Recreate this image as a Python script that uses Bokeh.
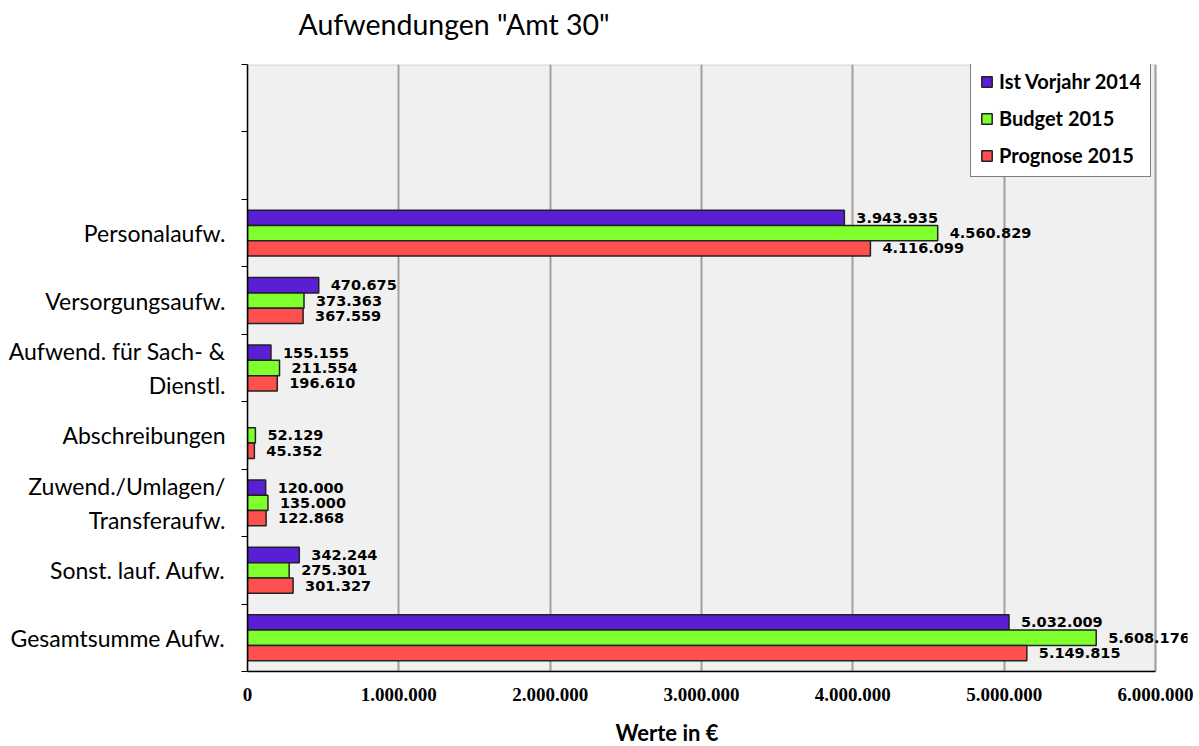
from bokeh.plotting import figure
from bokeh.models import (ColumnDataSource, Range1d, LinearAxis, BoxAnnotation,
                          FixedTicker, Label, Legend, LegendItem, Title)
from bokeh.embed import file_html
from bokeh.resources import INLINE

# ---- data ----
categories = ["Personalaufw.", "Versorgungsaufw.", "Aufwend. für Sach- &\nDienstl.",
              "Abschreibungen", "Zuwend./Umlagen/\nTransferaufw.", "Sonst. lauf. Aufw.",
              "Gesamtsumme Aufw."]
n_empty_slots = 2  # two empty rows at the top (legend area)
series_names = ["Ist Vorjahr 2014", "Budget 2015", "Prognose 2015"]
ist_2014 = [3943935, 470675, 155155, float("nan"), 120000, 342244, 5032009]
budget_2015 = [4560829, 373363, 211554, 52129, 135000, 275301, 5608176]
prognose_2015 = [4116099, 367559, 196610, 45352, 122868, 301327, 5149815]
x_ticks = [0, 1000000, 2000000, 3000000, 4000000, 5000000, 6000000]
x_tick_labels = ["0", "1.000.000", "2.000.000", "3.000.000", "4.000.000", "5.000.000", "6.000.000"]
colors = ["#5a1fd4", "#7fff2e", "#ff5050"]

x_max = 6000000
n_slots = len(categories) + n_empty_slots
# slot centres: first category at the top (below the empty slots)
centers = [len(categories) - 1 - i + 0.5 for i in range(len(categories))]

# frame extends a little beyond the grey plot area so value labels can overhang it
frame_left, frame_right, area_right = 247, 1187, 1155
x_end = x_max * (frame_right - frame_left) / (area_right - frame_left)

p = figure(width=1199, height=746, output_backend="svg", toolbar_location=None,
           y_range=Range1d(0, n_slots), x_range=Range1d(0, x_end),
           y_axis_location=None, x_axis_location=None,
           min_border_left=frame_left, min_border_right=1199 - frame_right,
           min_border_top=64, min_border_bottom=75,
           background_fill_color="white", border_fill_color="white")
p.outline_line_color = None

# grey plot area with border
p.add_layout(BoxAnnotation(left=0, right=x_max, fill_color="#f0f0f0", fill_alpha=1,
                           line_color="#8c8c8c", line_width=2, level="image"))

# axis with tick marks at slot boundaries
tick_axis = LinearAxis(ticker=FixedTicker(ticks=list(range(n_slots + 1))),
                       major_tick_out=6, major_tick_in=0, minor_tick_line_color=None,
                       axis_line_color="black", axis_line_width=1.5, major_tick_line_color="black",
                       major_label_text_font_size="0px", major_label_standoff=0,
                       major_label_overrides={t: "" for t in range(n_slots + 1)})
p.add_layout(tick_axis, "left")

# axis with category names at slot centres
cat_axis = LinearAxis(ticker=FixedTicker(ticks=centers),
                      major_label_overrides={c: name for c, name in zip(centers, categories)},
                      axis_line_color=None, major_tick_line_color=None, minor_tick_line_color=None,
                      major_label_text_font="Lato", major_label_text_font_size="23px",
                      major_label_text_color="black", major_label_standoff=10)
p.add_layout(cat_axis, "left")

xaxis = LinearAxis(ticker=FixedTicker(ticks=x_ticks), bounds=(0, x_max),
                   major_label_overrides={t: l for t, l in zip(x_ticks, x_tick_labels)},
                   major_tick_line_color=None, minor_tick_line_color=None,
                   axis_line_color="black", axis_line_width=1.5,
                   major_label_text_font="Liberation Serif", major_label_text_font_style="bold",
                   major_label_text_font_size="19px", major_label_text_color="black",
                   major_label_standoff=10)
p.add_layout(xaxis, "below")

p.xgrid.ticker = FixedTicker(ticks=x_ticks)
p.xgrid.grid_line_color = "#a0a0a0"
p.xgrid.grid_line_width = 2
p.ygrid.grid_line_color = None

bar_h = 0.227
offsets = [bar_h, 0.0, -bar_h]
items = []
for name, vals, col, off in zip(series_names, [ist_2014, budget_2015, prognose_2015], colors, offsets):
    ys = [c + off for c in centers]
    src = ColumnDataSource(dict(y=ys, val=vals))
    r = p.hbar(y="y", right="val", left=0, height=bar_h,
               source=src, fill_color=col, line_color="#222222", line_width=1.5)
    items.append(LegendItem(label=name, renderers=[r]))
    for v, y in zip(vals, ys):
        if v != v:
            continue
        p.add_layout(Label(x=v, y=y, text=f"{int(v):,}".replace(",", "."),
                           x_offset=12, text_baseline="middle", text_font="DejaVu Sans",
                           text_font_style="bold", text_font_size="14.5px", text_color="black"))

legend = Legend(items=items, location=(723, 494), margin=0,
                border_line_color="black", border_line_width=1.5,
                background_fill_color="white", background_fill_alpha=1,
                label_text_font="Lato", label_text_font_style="bold", label_text_font_size="20px",
                label_text_color="black",
                glyph_width=13, glyph_height=13, label_height=20, spacing=13,
                padding=9, label_standoff=6)
p.add_layout(legend)

# spacer then main title (above), spacer then axis title (below)
p.add_layout(Title(text=" ", text_font_size="1px", standoff=21), "above")
p.add_layout(Title(text='Aufwendungen "Amt 30"', align="left", offset=51, text_font="Lato",
                   text_font_size="28.5px", text_font_style="normal", text_color="black",
                   standoff=0), "above")

p.add_layout(Title(text=" ", text_font_size="1px", standoff=10), "below")
p.add_layout(Title(text="Werte in €", align="left", offset=368, text_font="Lato",
                   text_font_size="22px", text_font_style="bold", text_color="black",
                   standoff=0), "below")

open("out.html", "w").write(file_html(p, INLINE))
